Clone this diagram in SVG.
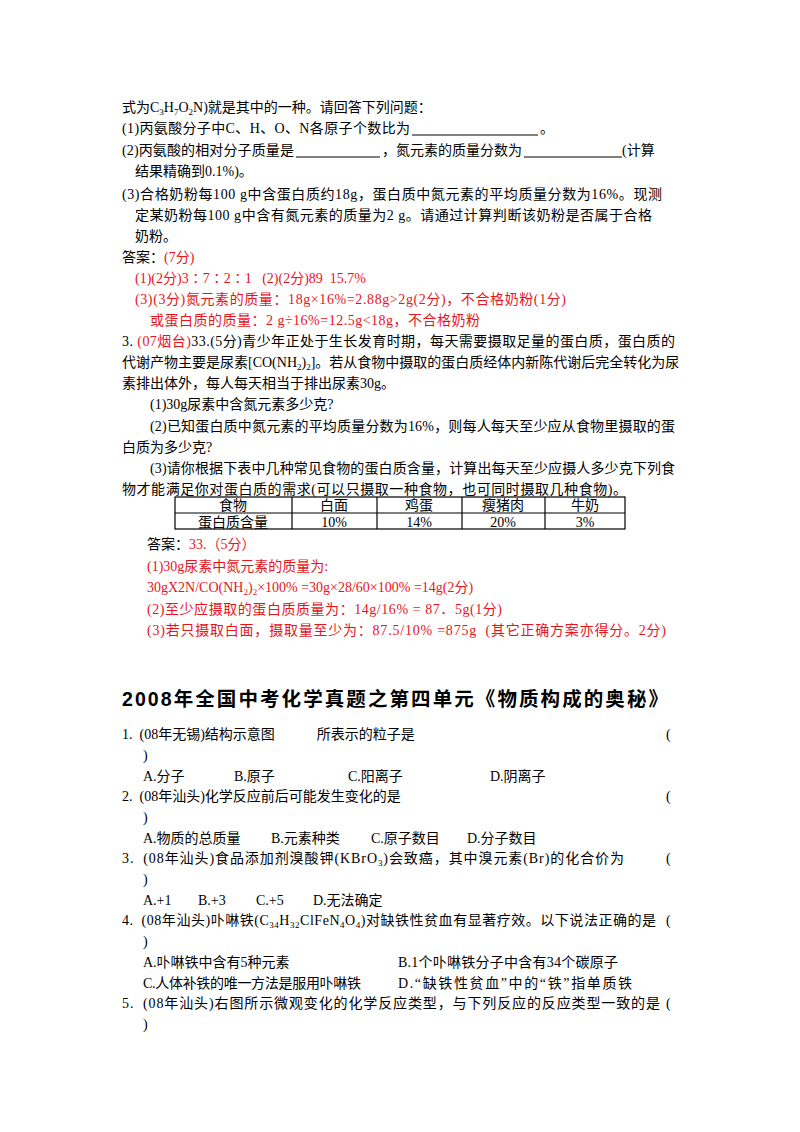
<svg xmlns="http://www.w3.org/2000/svg" width="800" height="1132" viewBox="0 0 800 1132">
<style>
text{font-family:"Liberation Serif","Noto Sans CJK SC",serif;font-size:14px;fill:#000;white-space:pre}
.r{fill:#e8141c}
.t{font-family:"Liberation Sans","Noto Sans CJK SC",sans-serif;font-size:19.5px;font-weight:bold}
.s{font-size:9px}
line{stroke:#000;stroke-width:1.2}
</style>
<rect width="800" height="1132" fill="#fff"/>
<g id="part1">
<text x="122" y="112">式为C<tspan class="s" dy="3">3</tspan><tspan dy="-3">H</tspan><tspan class="s" dy="3">7</tspan><tspan dy="-3">O</tspan><tspan class="s" dy="3">2</tspan><tspan dy="-3">N)就是其中的一种。请回答下列问题：</tspan></text>
<text x="122" y="133" textLength="288" lengthAdjust="spacing">(1)丙氨酸分子中C、H、O、N各原子个数比为</text>
<line x1="412" y1="135" x2="538" y2="135"/><text x="540" y="133">。</text>
<text x="122" y="155" textLength="172" lengthAdjust="spacing">(2)丙氨酸的相对分子质量是</text>
<line x1="296" y1="157" x2="380" y2="157"/>
<text x="382" y="155" textLength="140" lengthAdjust="spacing">，氮元素的质量分数为</text>
<line x1="524" y1="157" x2="622" y2="157"/><text x="622" y="155">(计算</text>
<text x="135" y="176">结果精确到0.1%)。</text>
<text x="122" y="199" textLength="540" lengthAdjust="spacing">(3)合格奶粉每100 g中含蛋白质约18g，蛋白质中氮元素的平均质量分数为16%。现测</text>
<text x="135" y="220" textLength="517" lengthAdjust="spacing">定某奶粉每100 g中含有氮元素的质量为2 g。请通过计算判断该奶粉是否属于合格</text>
<text x="135" y="241">奶粉。</text>
<text x="122" y="262">答案：<tspan class="r">(7分)</tspan></text>
<text class="r" x="135" y="283">(1)(2分)3∶7∶2∶1   (2)(2分)89  15.7%</text>
<text class="r" x="135" y="304" textLength="431" lengthAdjust="spacing">(3)(3分)氮元素的质量：18g×16%=2.88g&gt;2g(2分)，不合格奶粉(1分)</text>
<text class="r" x="150" y="325" textLength="330" lengthAdjust="spacing">或蛋白质的质量：2 g÷16%=12.5g&lt;18g，不合格奶粉</text>
</g>
<g id="part2">
<text x="122" y="346" textLength="553" lengthAdjust="spacing">3. <tspan class="r">(07烟台)</tspan>33.(5分)青少年正处于生长发育时期，每天需要摄取足量的蛋白质，蛋白质的</text>
<text x="122" y="367">代谢产物主要是尿素[CO(NH<tspan class="s" dy="3">2</tspan><tspan dy="-3">)</tspan><tspan class="s" dy="3">2</tspan><tspan dy="-3">]。若从食物中摄取的蛋白质经体内新陈代谢后完全转化为尿</tspan></text>
<text x="122" y="388">素排出体外，每人每天相当于排出尿素30g。</text>
<text x="150" y="409">(1)30g尿素中含氮元素多少克?</text>
<text x="150" y="431" textLength="525" lengthAdjust="spacing">(2)已知蛋白质中氮元素的平均质量分数为16%，则每人每天至少应从食物里摄取的蛋</text>
<text x="122" y="452">白质为多少克?</text>
<text x="150" y="473" textLength="525" lengthAdjust="spacing">(3)请你根据下表中几种常见食物的蛋白质含量，计算出每天至少应摄人多少克下列食</text>
<text x="122" y="494" textLength="505" lengthAdjust="spacing">物才能满足你对蛋白质的需求(可以只摄取一种食物，也可同时摄取几种食物)。</text>
</g>
<g id="table">
<rect x="175" y="497" width="450" height="32" fill="none" stroke="#000" stroke-width="1.2"/>
<line x1="175" y1="513" x2="625" y2="513"/>
<line x1="292" y1="497" x2="292" y2="529"/>
<line x1="377" y1="497" x2="377" y2="529"/>
<line x1="462" y1="497" x2="462" y2="529"/>
<line x1="545" y1="497" x2="545" y2="529"/>
<g text-anchor="middle">
<text x="233" y="510">食物</text><text x="334" y="510">白面</text><text x="419" y="510">鸡蛋</text><text x="503" y="510">瘦猪肉</text><text x="585" y="510">牛奶</text>
<text x="233" y="527">蛋白质含量</text><text x="334" y="527">10%</text><text x="419" y="527">14%</text><text x="503" y="527">20%</text><text x="585" y="527">3%</text>
</g>
</g>
<g id="answer2">
<text x="147" y="549">答案：<tspan class="r">33.（5分）</tspan></text>
<text class="r" x="147" y="571">(1)30g尿素中氮元素的质量为:</text>
<text class="r" x="147" y="592">30gX2N/CO(NH<tspan class="s" dy="3">2</tspan><tspan dy="-3">)</tspan><tspan class="s" dy="3">2</tspan><tspan dy="-3">×100% =30g×28/60×100% =14g(2分)</tspan></text>
<text class="r" x="147" y="614" textLength="355" lengthAdjust="spacing">(2)至少应摄取的蛋白质质量为：14g/16% = 87．5g(1分)</text>
<text class="r" x="147" y="635" textLength="519" lengthAdjust="spacing">(3)若只摄取白面，摄取量至少为：87.5/10% =875g  (其它正确方案亦得分。2分)</text>
</g>
<g id="part3">
<text class="t" x="122" y="706" textLength="546" lengthAdjust="spacing">2008年全国中考化学真题之第四单元《物质构成的奥秘》</text>
<text x="122" y="739">1.  (08年无锡)结构示意图            所表示的粒子是</text><text x="666" y="739">(</text>
<text x="143" y="760">)</text>
<text x="143" y="781">A.分子</text><text x="234" y="781">B.原子</text><text x="348" y="781">C.阳离子</text><text x="490" y="781">D.阴离子</text>
<text x="122" y="801">2.  (08年汕头)化学反应前后可能发生变化的是</text><text x="666" y="801">(</text>
<text x="143" y="822">)</text>
<text x="143" y="843">A.物质的总质量</text><text x="271" y="843">B.元素种类</text><text x="371" y="843">C.原子数目</text><text x="467" y="843">D.分子数目</text>
<text x="122" y="863" textLength="502" lengthAdjust="spacing">3.  (08年汕头)食品添加剂溴酸钾(KBrO<tspan class="s" dy="3">3</tspan><tspan dy="-3">)会致癌，其中溴元素(Br)的化合价为</tspan></text><text x="666" y="863">(</text>
<text x="143" y="884">)</text>
<text x="143" y="905">A.+1</text><text x="198" y="905">B.+3</text><text x="256" y="905">C.+5</text><text x="313" y="905">D.无法确定</text>
<text x="122" y="925" textLength="534" lengthAdjust="spacing">4.  (08年汕头)卟啉铁(C<tspan class="s" dy="3">34</tspan><tspan dy="-3">H</tspan><tspan class="s" dy="3">32</tspan><tspan dy="-3">ClFeN</tspan><tspan class="s" dy="3">4</tspan><tspan dy="-3">O</tspan><tspan class="s" dy="3">4</tspan><tspan dy="-3">)对缺铁性贫血有显著疗效。以下说法正确的是</tspan></text><text x="666" y="925">(</text>
<text x="143" y="946">)</text>
<text x="143" y="967">A.卟啉铁中含有5种元素</text><text x="398" y="967" textLength="220" lengthAdjust="spacing">B.1个卟啉铁分子中含有34个碳原子</text>
<text x="143" y="988" textLength="218" lengthAdjust="spacing">C.人体补铁的唯一方法是服用卟啉铁</text><text x="398" y="988" textLength="234" lengthAdjust="spacing">D.“缺铁性贫血”中的“铁”指单质铁</text>
<text x="122" y="1008" textLength="538" lengthAdjust="spacing">5.  (08年汕头)右图所示微观变化的化学反应类型，与下列反应的反应类型一致的是</text><text x="666" y="1008">(</text>
<text x="143" y="1029">)</text>
</g>
</svg>
